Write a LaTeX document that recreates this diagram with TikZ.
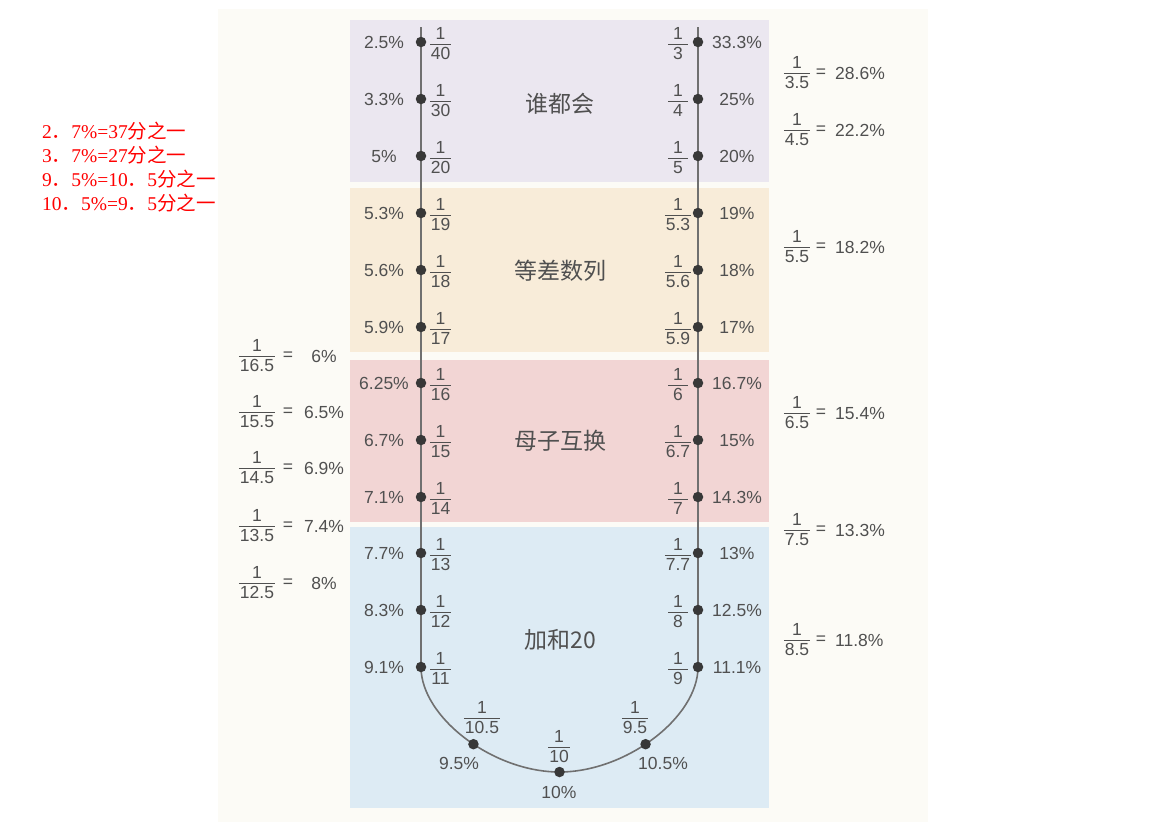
\documentclass[tikz,border=0pt]{standalone}
\usepackage{fontspec}
\setmainfont{Liberation Sans}
\newfontfamily\cjk{Noto Sans CJK SC}
\newfontfamily\rserif{Liberation Serif}
\definecolor{bgcream}{HTML}{FCFBF6}
\definecolor{bandpurple}{HTML}{EBE7F0}
\definecolor{bandorange}{HTML}{F8ECD9}
\definecolor{bandpink}{HTML}{F2D5D4}
\definecolor{bandblue}{HTML}{DDEBF4}
\definecolor{txtc}{HTML}{505050}
\definecolor{linec}{HTML}{707070}
\definecolor{dotc}{HTML}{383838}
\setlength{\arrayrulewidth}{0.8pt}
\newcommand\fr[2]{\sbox0{#2}\ifdim\wd0<18pt\sbox0{\makebox[18pt]{#2}}\fi\begin{tabular}{@{\hspace{1pt}}c@{\hspace{1pt}}}#1\\[-2pt]\hline\usebox0\end{tabular}}
\newcommand\rline[3]{{\rserif #1}{\cjk ．}{\rserif #2}{\cjk #3}}
\tikzset{
  pct/.style={text=txtc, font=\fontsize{17.5}{21}\selectfont, inner sep=0pt, text height=12.6pt, text depth=0pt},
  fracnode/.style={text=txtc, font=\fontsize{17.5}{21}\selectfont, inner sep=0pt},
  eqnode/.style={text=txtc, font=\fontsize{17.5}{21}\selectfont, inner sep=0pt},
  dotnode/.style={circle, fill=dotc, minimum size=10.5pt, inner sep=0pt},
  titlenode/.style={text=txtc, font=\cjk\fontsize{23}{28}\selectfont, inner sep=0pt},
  redtxt/.style={text=red, font=\fontsize{19.5}{23}\selectfont, inner sep=0pt, anchor=west},
  mainline/.style={draw=linec, line width=1.6pt}
}
\begin{document}
\begin{tikzpicture}[x=1pt,y=-1pt]
\useasboundingbox (0,0) rectangle (1151,822);
\fill[white] (0,0) rectangle (1151,822);
% cream panel
\fill[bgcream] (218,9) rectangle (928,822);
% bands
\fill[bandpurple] (350,20) rectangle (769,182);
\fill[bandorange] (350,188) rectangle (769,352);
\fill[bandpink] (350,360) rectangle (769,522);
\fill[bandblue] (350,527) rectangle (769,808);
% titles
\node[titlenode] (t1) at (560,104) {谁都会};
\node[titlenode] (t2) at (560,271) {等差数列};
\node[titlenode] (t3) at (560,441) {母子互换};
\node[titlenode] (t4) at (560,640) {加和20};
% main U line
\draw[mainline] (421,27) -- (421,667)
  .. controls (421,717.4) and (492.98,772) .. (559.5,772) coordinate[pos=0.55] (a1)
  coordinate (a2)
  .. controls (626.02,772) and (698,717.4) .. (698,667) coordinate[pos=0.45] (a3)
  -- (698,27);
% left dots and labels
\foreach \y/\p/\d [count=\i] in {42/2.5\%/40, 99/3.3\%/30, 156/5\%/20, 213/5.3\%/19, 270/5.6\%/18, 327/5.9\%/17, 383/6.25\%/16, 440/6.7\%/15, 497/7.1\%/14, 553/7.7\%/13, 610/8.3\%/12, 667/9.1\%/11}{
  \node[dotnode] (L\i) at (421,\y) {};
  \node[pct] (Lp\i) at (384,\y) {\p};
  \node[fracnode] (Lf\i) at (440.5,\y+3) {\fr{1}{\d}};
}
% right dots and labels
\foreach \y/\p/\d [count=\i] in {42/33.3\%/3, 99/25\%/4, 156/20\%/5, 213/19\%/5.3, 270/18\%/5.6, 327/17\%/5.9, 383/16.7\%/6, 440/15\%/6.7, 497/14.3\%/7, 553/13\%/7.7, 610/12.5\%/8, 667/11.1\%/9}{
  \node[dotnode] (R\i) at (698,\y) {};
  \node[pct] (Rp\i) at (737,\y) {\p};
  \node[fracnode] (Rf\i) at (678,\y+3) {\fr{1}{\d}};
}
% arc dots and labels
\node[dotnode] (A1) at (a1) {};
\node[dotnode] (A2) at (a2) {};
\node[dotnode] (A3) at (a3) {};
\node[fracnode] (Af1) at (482,719) {\fr{1}{10.5}};
\node[pct] (Ap1) at (459,763) {9.5\%};
\node[fracnode] (Af2) at (559,748) {\fr{1}{10}};
\node[pct] (Ap2) at (559,792) {10\%};
\node[fracnode] (Af3) at (635,719) {\fr{1}{9.5}};
\node[pct] (Ap3) at (663,763) {10.5\%};
% left side notes
\foreach \y/\d/\p [count=\i] in {356/16.5/6\%, 412/15.5/6.5\%, 468/14.5/6.9\%, 526/13.5/7.4\%, 583/12.5/8\%}{
  \node[fracnode] (SLf\i) at (257,\y+1) {\fr{1}{\d}};
  \node[eqnode] (SLe\i) at (288,\y) {=};
  \node[pct] (SLp\i) at (324,\y) {\p};
}
% right side notes
\foreach \y/\d/\p [count=\i] in {73/3.5/28.6\%, 130/4.5/22.2\%, 247/5.5/18.2\%, 413/6.5/15.4\%, 530/7.5/13.3\%, 640/8.5/11.8\%}{
  \node[fracnode] (SRf\i) at (797,\y+1) {\fr{1}{\d}};
  \node[eqnode] (SRe\i) at (821,\y) {=};
  \node[pct, anchor=west] (SRp\i) at (835,\y) {\p};
}
% red notes
\node[redtxt] (r1) at (42,131) {\rline{2}{7\%=37}{分之一}};
\node[redtxt] (r2) at (42,155) {\rline{3}{7\%=27}{分之一}};
\node[redtxt] (r3) at (42,179) {{\rserif 9}{\cjk ．}{\rserif 5\%=10}{\cjk ．}{\rserif 5}{\cjk 分之一}};
\node[redtxt] (r4) at (42,203) {{\rserif 10}{\cjk ．}{\rserif 5\%=9}{\cjk ．}{\rserif 5}{\cjk 分之一}};
\end{tikzpicture}
\end{document}
